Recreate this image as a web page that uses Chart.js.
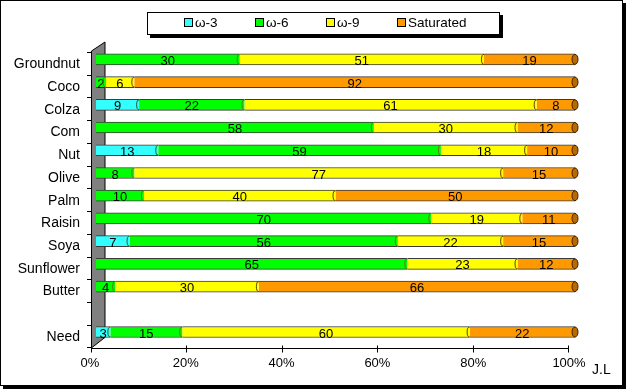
<!DOCTYPE html>
<html><head><meta charset="utf-8">
<script src="https://cdn.jsdelivr.net/npm/chart.js@4"></script>
<style>
html,body{margin:0;padding:0;background:#fff;}
#wrap{position:relative;width:626px;height:389px;}
#legend{position:absolute;left:147px;top:12px;width:351px;height:21px;border:1px solid #000;box-shadow:3px 3px 0 #000;background:#fff;font:13.5px "Liberation Sans",Arial,sans-serif;color:#000;}
.item{position:absolute;top:2px;white-space:nowrap;line-height:16px;}
.sw{display:inline-block;width:7px;height:7px;border:1px solid #000;margin-right:2px;vertical-align:0px}
</style></head>
<body>
<div id="wrap"><canvas id="c" width="626" height="389"></canvas><div id="legend"></div></div>
<script>
const categories = ['Groundnut','Coco','Colza','Com','Nut','Olive','Palm','Raisin','Soya','Sunflower','Butter','','Need'];
const omega3    = [0, 0, 9, 0, 13, 0, 0, 0, 7, 0, 0, null, 3];
const omega6    = [30, 2, 22, 58, 59, 8, 10, 70, 56, 65, 4, null, 15];
const omega9    = [51, 6, 61, 30, 18, 77, 40, 19, 22, 23, 30, null, 60];
const saturated = [19, 92, 8, 12, 10, 15, 50, 11, 15, 12, 66, null, 22];
const seriesNames = ['ω-3', 'ω-6', 'ω-9', 'Saturated'];
const xTickValues = [0, 20, 40, 60, 80, 100];
const credit = 'J.L';

const fills = ['#33ffff', '#00ff00', '#ffff00', '#ff9900'];
const edges = ['#2a7a7a', '#1f5f1f', '#6e6e1a', '#6a3a00'];
const FONT = '"Liberation Sans", Arial, sans-serif';

// HTML legend
const legendPos = [36, 107, 178, 249];
const lg = document.getElementById('legend');
seriesNames.forEach((n, i) => {
  const d = document.createElement('div');
  d.className = 'item';
  d.style.left = legendPos[i] + 'px';
  d.innerHTML = '<span class="sw" style="background:' + fills[i] + '"></span>' + n;
  lg.appendChild(d);
});

const seriesData = [omega3, omega6, omega9, saturated];

const deco = {
  id: 'deco',
  beforeDraw(chart) {
    const ctx = chart.ctx;
    ctx.save();
    ctx.fillStyle = '#fff';
    ctx.fillRect(0, 0, 626, 389);
    ctx.fillStyle = '#000';
    ctx.fillRect(3, 386, 622, 3);
    ctx.fillRect(623, 3, 3, 386);
    ctx.strokeStyle = '#000';
    ctx.lineWidth = 1;
    ctx.strokeRect(0.5, 0.5, 622, 385);
    ctx.restore();
  },
  beforeDatasetsDraw(chart) {
    const ctx = chart.ctx, a = chart.chartArea, xs = chart.scales.x;
    const x0 = xs.getPixelForValue(0);
    ctx.save();
    // wall
    ctx.beginPath();
    ctx.moveTo(x0 - 4.5, a.top + 3);
    ctx.lineTo(x0 + 9, a.top - 6);
    ctx.lineTo(x0 + 9, a.bottom - 6);
    ctx.lineTo(x0 - 4.5, a.bottom + 4.5);
    ctx.closePath();
    ctx.fillStyle = '#808080';
    ctx.fill();
    ctx.strokeStyle = '#000';
    ctx.lineWidth = 1;
    ctx.stroke();
    // y axis ticks
    const n = categories.length;
    const band = (a.bottom - a.top) / n;
    ctx.beginPath();
    for (let i = 0; i <= n; i++) {
      const y = Math.round(a.top + 4 + i * band) + 0.5;
      ctx.moveTo(x0 - 9, y);
      ctx.lineTo(x0 - 4.5, y);
    }
    // x axis line and ticks
    const yb = Math.round(a.bottom + 4.5) + 0.5;
    ctx.moveTo(x0 - 5, yb);
    ctx.lineTo(xs.getPixelForValue(100) - 7, yb);
    xTickValues.forEach(v => {
      const px = Math.round(xs.getPixelForValue(v) - 5 - v * 0.02) + 0.5;
      ctx.moveTo(px, yb - 3);
      ctx.lineTo(px, yb + 4);
    });
    ctx.strokeStyle = '#000';
    ctx.stroke();
    // credit
    ctx.fillStyle = '#000';
    ctx.font = '14px ' + FONT;
    ctx.textBaseline = 'middle';
    ctx.textAlign = 'left';
    ctx.fillText(credit, 592, 370);
    ctx.restore();
  },
  afterDatasetsDraw(chart) {
    const ctx = chart.ctx;
    ctx.save();
    const nRows = categories.length;
    for (let r = 0; r < nRows; r++) {
      let first = true;
      let lastEl = null;
      for (let d = 0; d < seriesData.length; d++) {
        const v = seriesData[d][r];
        if (v == null || v <= 0) continue;
        const el = chart.getDatasetMeta(d).data[r];
        const h = el.height;
        if (!first) {
          ctx.beginPath();
          ctx.ellipse(el.base, el.y, 2.5, h / 2 - 0.5, 0, Math.PI / 2, Math.PI * 1.5);
          ctx.strokeStyle = edges[d];
          ctx.lineWidth = 1;
          ctx.stroke();
        }
        first = false;
        lastEl = el;
        ctx.fillStyle = '#000';
        ctx.font = '13px ' + FONT;
        ctx.textAlign = 'center';
        ctx.textBaseline = 'middle';
        ctx.fillText(String(v), (el.x + el.base) / 2, el.y + 2);
      }
      if (lastEl) {
        ctx.beginPath();
        ctx.ellipse(lastEl.x, lastEl.y, 3, lastEl.height / 2 - 0.5, 0, 0, Math.PI * 2);
        ctx.fillStyle = '#b86a00';
        ctx.fill();
        ctx.strokeStyle = '#402000';
        ctx.stroke();
      }
    }
    ctx.restore();
  }
};

new Chart(document.getElementById('c'), {
  type: 'bar',
  data: {
    labels: categories,
    datasets: seriesNames.map((n, i) => ({
      label: n,
      data: seriesData[i],
      backgroundColor: fills[i],
      borderColor: '#3a3a3a',
      borderWidth: {top: 1, bottom: 1, left: 0, right: 0},
      borderSkipped: false,
      barThickness: 11
    }))
  },
  options: {
    indexAxis: 'y',
    responsive: false,
    animation: false,
    devicePixelRatio: 1,
    layout: {padding: {top: 48, right: 51, left: 0, bottom: 0}},
    plugins: {legend: {display: false}, tooltip: {enabled: false}},
    scales: {
      x: {
        stacked: true, min: 0, max: 100,
        afterFit(s) { s.height = 45.6; },
        afterBuildTicks(s) { s.ticks = xTickValues.map(v => ({value: v})); },
        grid: {display: false, drawTicks: false},
        border: {display: false},
        ticks: {
          color: '#000', font: {family: FONT, size: 13}, padding: 12, labelOffset: -6,
          maxRotation: 0, callback: v => v + '%'
        }
      },
      y: {
        stacked: true,
        afterFit(s) { s.width = 96; },
        grid: {display: false, drawTicks: false},
        border: {display: false},
        ticks: {color: '#000', font: {family: FONT, size: 14}, padding: 16, labelOffset: 5, autoSkip: false}
      }
    }
  },
  plugins: [deco]
});
</script>
</body></html>
